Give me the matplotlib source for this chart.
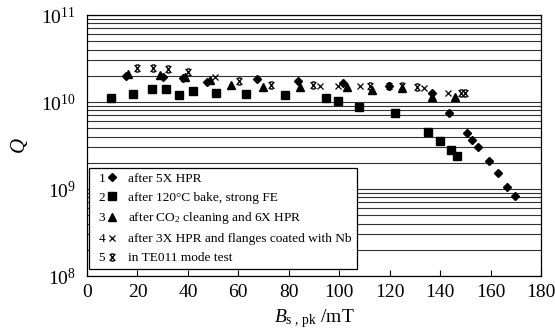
import matplotlib
matplotlib.use("Agg")
import matplotlib.pyplot as plt
from matplotlib.lines import Line2D
from matplotlib.text import Text
from matplotlib.path import Path
from matplotlib.legend_handler import HandlerBase
from matplotlib.ticker import LogLocator, LogFormatterMathtext, NullFormatter, MultipleLocator

plt.rcParams["font.family"] = ["Liberation Serif", "DejaVu Serif"]
plt.rcParams["mathtext.fontset"] = "custom"
plt.rcParams["mathtext.rm"] = "Liberation Serif"
plt.rcParams["mathtext.it"] = "Liberation Serif:italic"

# series 1: after 5X HPR (diamonds)
s1_b = [15.5, 30.0, 38.0, 47.5, 67.3, 83.5, 101.4, 119.7, 136.7, 143.7, 150.6, 152.8,
        155.2, 159.4, 163.0, 166.7, 169.7]
s1_q = [2.00e10, 1.92e10, 1.88e10, 1.72e10, 1.85e10, 1.76e10, 1.67e10, 1.53e10, 1.26e10,
        7.5e9, 4.4e9, 3.66e9, 3.06e9, 2.10e9, 1.51e9, 1.05e9, 8.4e8]

# series 2: after 120C bake, strong FE (squares)
s2_b = [9.4, 18.4, 25.9, 31.3, 36.6, 41.9, 51.0, 63.0, 78.5, 94.6, 99.4, 108.0, 122.2,
        135.3, 140.0, 144.2, 146.8]
s2_q = [1.10e10, 1.24e10, 1.42e10, 1.42e10, 1.19e10, 1.33e10, 1.28e10, 1.23e10, 1.20e10,
        1.10e10, 1.04e10, 8.8e9, 7.5e9, 4.5e9, 3.6e9, 2.8e9, 2.4e9]

# series 3: after CO2 cleaning and 6X HPR (triangles)
s3_b = [16.4, 28.9, 38.9, 48.8, 57.1, 69.7, 84.5, 103.0, 112.9, 124.8, 136.7, 145.9]
s3_q = [2.11e10, 2.03e10, 1.94e10, 1.77e10, 1.58e10, 1.49e10, 1.48e10, 1.50e10, 1.37e10,
        1.44e10, 1.13e10, 1.15e10]

# series 4: after 3X HPR and flanges coated with Nb (crosses)
s4_b = [50.8, 92.5, 99.4, 108.2, 133.6, 143.3]
s4_q = [1.94e10, 1.53e10, 1.53e10, 1.53e10, 1.46e10, 1.26e10]

# series 5: TE011 mode test
s5_b = [19.7, 26.3, 32.2, 39.9, 60.4, 72.8, 89.5, 112.2, 119.7, 124.8, 131.0, 148.3, 149.9]
s5_q = [2.46e10, 2.46e10, 2.42e10, 2.21e10, 1.73e10, 1.56e10, 1.57e10, 1.53e10, 1.53e10,
        1.53e10, 1.50e10, 1.28e10, 1.28e10]

labels = ["after 5X HPR", "after 120\u00b0C bake, strong FE",
          "after CO$_2$ cleaning and 6X HPR",
          "after 3X HPR and flanges coated with Nb", "in TE011 mode test"]

# x with short bars on top and bottom
xbar = Path([(-0.8, -1), (0.8, 1), (-0.8, 1), (0.8, -1),
             (-0.45, 1), (0.45, 1), (-0.45, -1), (0.45, -1)],
            [Path.MOVETO, Path.LINETO] * 4)


class NumberedHandler(HandlerBase):
    def __init__(self, num):
        super().__init__()
        self.num = num

    def create_artists(self, legend, orig_handle, xdescent, ydescent, width, height,
                       fontsize, trans):
        yc = height / 2 - ydescent
        t = Text(-xdescent + 0.31 * width, yc - 0.35 * fontsize, self.num,
                 fontsize=fontsize, ha="center", va="baseline", transform=trans)
        m = Line2D([-xdescent + 0.69 * width], [yc], linestyle="none")
        m.update_from(orig_handle)
        m.set_transform(trans)
        return [t, m]


fig = plt.figure(figsize=(5.55, 3.35), dpi=100)
ax = fig.add_axes([0.1568, 0.1761, 0.8180, 0.7791])

h1, = ax.plot(s1_b, s1_q, linestyle="none", marker="D", ms=4.2, color="k")
h2, = ax.plot(s2_b, s2_q, linestyle="none", marker="s", ms=5.2, color="k")
h3, = ax.plot(s3_b, s3_q, linestyle="none", marker="^", ms=5.8, color="k")
h4, = ax.plot(s4_b, s4_q, linestyle="none", marker="x", ms=4.5, mew=0.9, color="k")
h5, = ax.plot(s5_b, s5_q, linestyle="none", marker=xbar, ms=5, mew=1.0,
              mfc="none", mec="k")
handles = [h1, h2, h3, h4, h5]

ax.set_yscale("log")
ax.set_ylim(1e8, 1e11)
ax.set_xlim(0, 180)
ax.xaxis.set_major_locator(MultipleLocator(20))
ax.yaxis.set_major_locator(LogLocator(base=10, numticks=10))
ax.yaxis.set_minor_locator(LogLocator(base=10, subs=range(2, 10), numticks=20))
ax.yaxis.set_major_formatter(LogFormatterMathtext())
ax.yaxis.set_minor_formatter(NullFormatter())
ax.yaxis.grid(True, which="both", color="0.2", lw=0.8)
ax.set_axisbelow(True)

ax.tick_params(axis="x", direction="in", length=4, width=0.8, labelsize=14, pad=6)
ax.tick_params(axis="y", which="both", direction="in", length=0, labelsize=14, pad=8)
for sp in ax.spines.values():
    sp.set_linewidth(0.9)

ax.set_xlabel(r"$B_{\mathrm{s\ ,\,pk}}$ /mT", fontsize=14, labelpad=4)
ax.set_ylabel(r"$Q$", fontsize=15, labelpad=8)

leg = ax.legend(handles, labels, loc="lower left", bbox_to_anchor=(0.0044, 0.027),
                borderaxespad=0, fontsize=9.6, frameon=True, fancybox=False,
                edgecolor="k", framealpha=1, handlelength=1.95, handletextpad=0.65,
                labelspacing=0.5, borderpad=0.35,
                handler_map={h: NumberedHandler(str(i + 1)) for i, h in enumerate(handles)})
leg.get_frame().set_linewidth(0.9)

fig.savefig("out.png", dpi=100)
